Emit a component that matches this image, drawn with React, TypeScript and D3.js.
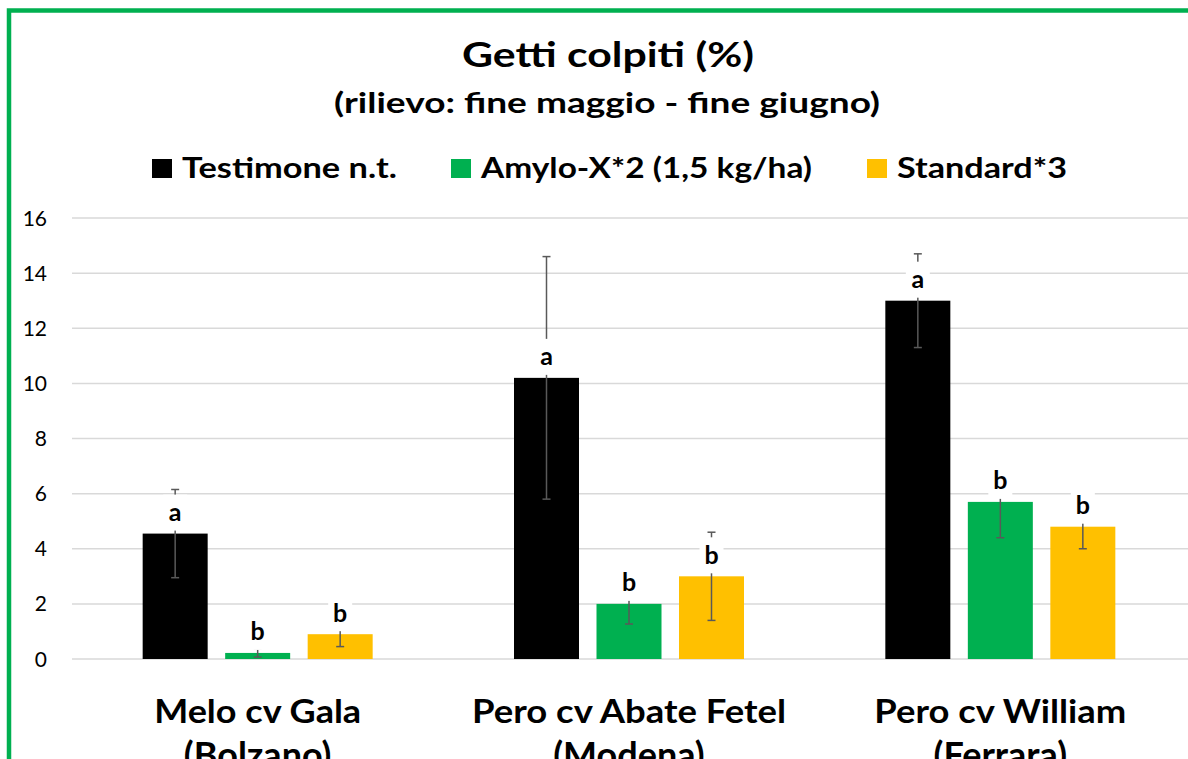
import React from "react";
import * as d3 from "d3";

const categories = ["Melo cv Gala", "Pero cv Abate Fetel", "Pero cv William"];
const categorySub = ["(Bolzano)", "(Modena)", "(Ferrara)"];
const seriesNames = ["Testimone n.t.", "Amylo-X*2 (1,5 kg/ha)", "Standard*3"];
const seriesColors = ["#000000", "#00b050", "#ffc000"];
const testimone = [4.55, 10.2, 13.0];
const amylo = [0.22, 2.0, 5.7];
const standard = [0.9, 3.0, 4.8];
const errTestimone = [1.6, 4.4, 1.7];
const errAmylo = [0.15, 0.73, 1.3];
const errStandard = [0.45, 1.6, 0.8];
const lettersTestimone = ["a", "a", "a"];
const lettersAmylo = ["b", "b", "b"];
const lettersStandard = ["b", "b", "b"];
const yTicks = [0, 2, 4, 6, 8, 10, 12, 14, 16];

const values = [testimone, amylo, standard];
const errors = [errTestimone, errAmylo, errStandard];
const letters = [lettersTestimone, lettersAmylo, lettersStandard];

const W = 1188;
const H = 759;
const FONT = "Lato, 'Open Sans', sans-serif";
const catWidths = [207, 314, 252];

export default function App() {
  const x = d3.scaleBand<string>().domain(categories).range([72, 1186]).paddingInner(0).paddingOuter(0);
  const y = d3.scaleLinear().domain([0, 16]).range([659, 218]);
  const sub = d3.scaleBand<string>().domain(seriesNames).range([0, 247.5]);
  const barW = 65;

  const legendItems = [
    { sx: 152, tx: 182, w: 215 },
    { sx: 451, tx: 481, w: 331 },
    { sx: 867, tx: 897, w: 170 },
  ];

  return (
    <svg width={W} height={H} style={{ position: "absolute", left: 0, top: 0, background: "#fff" }}>
      <rect x={0} y={0} width={W} height={H} fill="#fff" />
      {/* border */}
      <path d={`M9,${H + 10} L9,10.5 L${W + 10},10.5`} fill="none" stroke="#00b050" strokeWidth={4.5} />

      {/* title */}
      <text x={608} y={67} textAnchor="middle" fontFamily={FONT} fontWeight={700} fontSize={34} textLength={292} lengthAdjust="spacingAndGlyphs">Getti colpiti (%)</text>
      <text x={607} y={113} textAnchor="middle" fontFamily={FONT} fontWeight={700} fontSize={28} textLength={546} lengthAdjust="spacingAndGlyphs">(rilievo: fine maggio - fine giugno)</text>

      {/* legend */}
      {seriesNames.map((s, i) => (
        <g key={s}>
          <rect x={legendItems[i].sx} y={159} width={20} height={19} fill={seriesColors[i]} />
          <text x={legendItems[i].tx} y={178} fontFamily={FONT} fontWeight={700} fontSize={28} textLength={legendItems[i].w} lengthAdjust="spacingAndGlyphs">{s}</text>
        </g>
      ))}

      {/* gridlines & y ticks */}
      {yTicks.map((t) => (
        <g key={t}>
          <line x1={72} x2={W} y1={y(t)} y2={y(t)} stroke="#d9d9d9" strokeWidth={1.5} />
          <text x={47} y={y(t) + 7.5} textAnchor="end" fontFamily={FONT} fontSize={21} fill="#000">{t}</text>
        </g>
      ))}

      {/* bars */}
      {categories.map((c, ci) => {
        const gx = x(c)!;
        return seriesNames.map((s, si) => {
          const bx = gx + (x.bandwidth() - sub.range()[1]) / 2 + sub(s)! + (sub.bandwidth() - barW) / 2;
          const v = values[si][ci];
          return (
            <rect key={c + s} x={bx} y={y(v)} width={barW} height={y(0) - y(v)} fill={seriesColors[si]} />
          );
        });
      })}

      {/* error bars */}
      {categories.map((c, ci) => {
        const gx = x(c)!;
        return seriesNames.map((s, si) => {
          const cx = gx + (x.bandwidth() - sub.range()[1]) / 2 + sub(s)! + sub.bandwidth() / 2;
          const v = values[si][ci];
          const e = errors[si][ci];
          const y1 = y(v + e);
          const y2 = y(Math.max(0, v - e));
          return (
            <g key={"e" + c + s} stroke="#595959" strokeWidth={1.5}>
              <line x1={cx} x2={cx} y1={y1} y2={y2} />
              <line x1={cx - 4} x2={cx + 4} y1={y1} y2={y1} />
              <line x1={cx - 4} x2={cx + 4} y1={y2} y2={y2} />
            </g>
          );
        });
      })}

      {/* letter labels */}
      {categories.map((c, ci) => {
        const gx = x(c)!;
        return seriesNames.map((s, si) => {
          const cx = gx + (x.bandwidth() - sub.range()[1]) / 2 + sub(s)! + sub.bandwidth() / 2;
          const v = values[si][ci];
          const cy = y(v) - 21;
          return (
            <g key={"l" + c + s}>
              <rect x={cx - 12} y={cy - 18} width={24} height={36} fill="#fff" />
              <text x={cx} y={cy + 8.5} textAnchor="middle" fontFamily={FONT} fontWeight={700} fontSize={25} fill="#000">{letters[si][ci]}</text>
            </g>
          );
        });
      })}

      {/* category labels */}
      {categories.map((c, ci) => {
        const cx = x(c)! + x.bandwidth() / 2;
        return (
          <g key={"c" + c}>
            <text x={cx} y={723} textAnchor="middle" fontFamily={FONT} fontWeight={700} fontSize={33} fill="#000" textLength={catWidths[ci]} lengthAdjust="spacingAndGlyphs">{c}</text>
            <text x={cx} y={768} textAnchor="middle" fontFamily={FONT} fontWeight={700} fontSize={36} fill="#000">{categorySub[ci]}</text>
          </g>
        );
      })}
    </svg>
  );
}
